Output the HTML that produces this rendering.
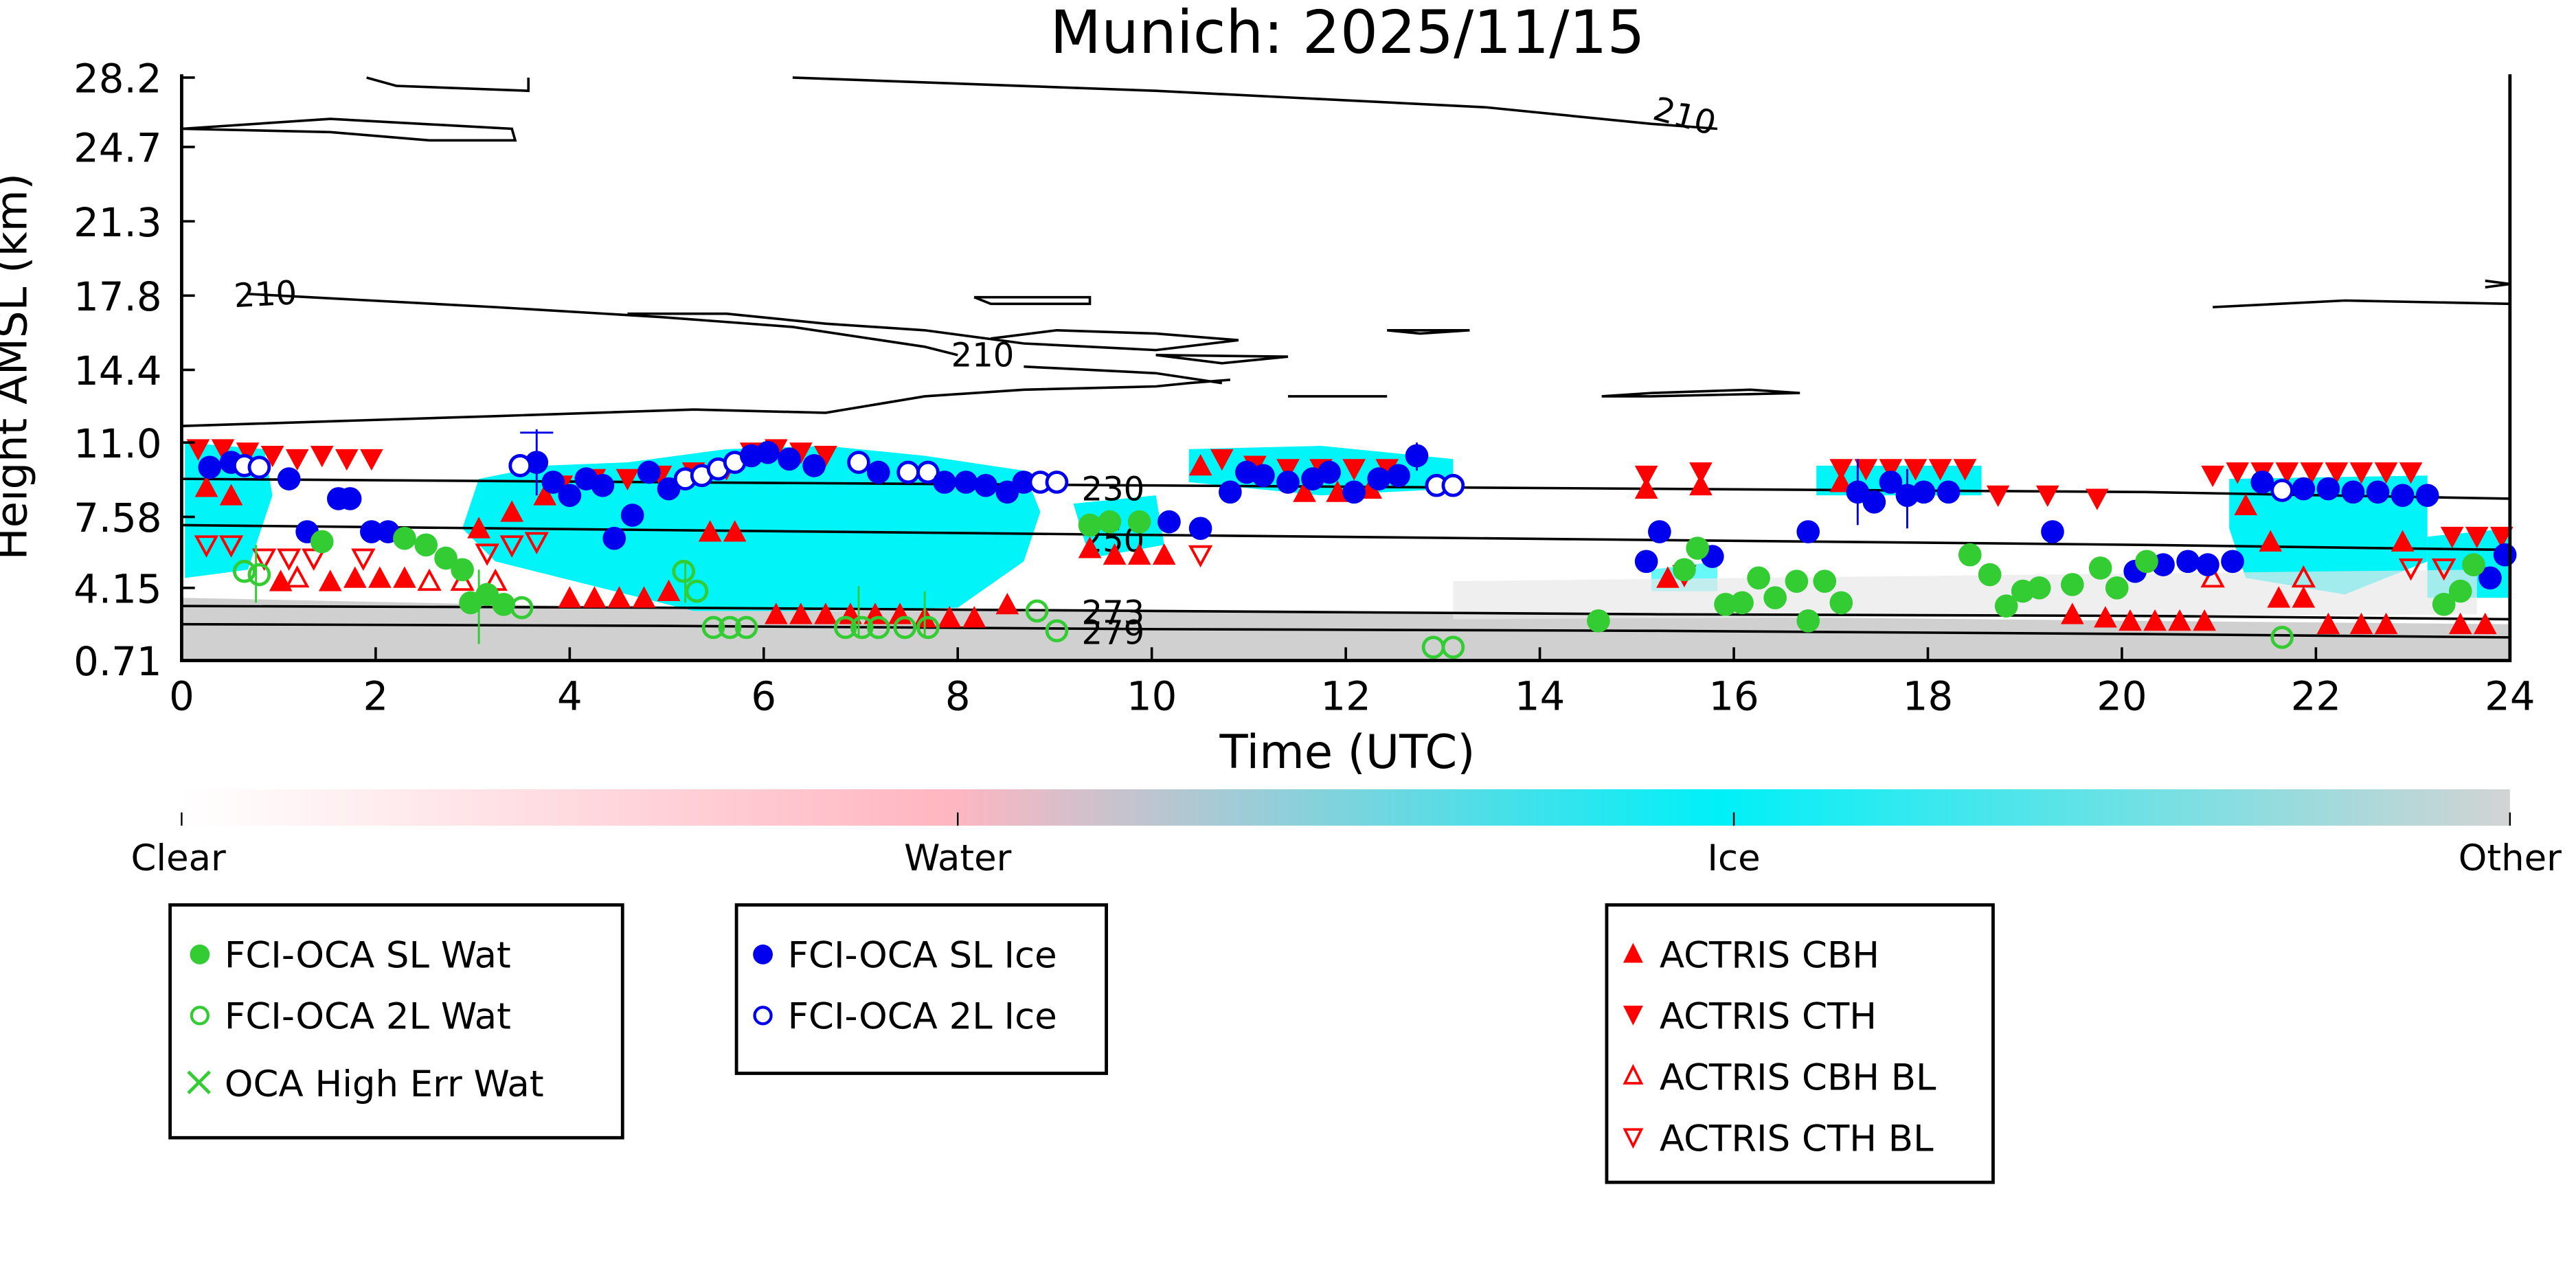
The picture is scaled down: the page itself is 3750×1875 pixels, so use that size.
<!DOCTYPE html>
<html><head><meta charset="utf-8"><style>
html,body{margin:0;padding:0;background:#fff}
svg{display:block}
text{font-family:"DejaVu Sans","Liberation Sans",sans-serif;fill:#000}
</style></head><body>
<svg width="3750" height="1875" viewBox="0 0 1560 780" xmlns="http://www.w3.org/2000/svg">
<defs>
<linearGradient id="cb" x1="0" x2="1">
<stop offset="0" stop-color="#ffffff"/>
<stop offset="0.33" stop-color="#ffb6c1"/>
<stop offset="0.66" stop-color="#00f0f8"/>
<stop offset="1" stop-color="#d3d3d3"/>
</linearGradient>
<g id="tu"><path d="M0,-7 L7,6 L-7,6Z" fill="#f00"/></g>
<g id="td"><path d="M0,7 L7,-6 L-7,-6Z" fill="#f00"/></g>
<g id="tuo"><path d="M0,-6 L6,5 L-6,5Z" fill="none" stroke="#f00" stroke-width="1.6"/></g>
<g id="tdo"><path d="M0,6 L6,-5 L-6,-5Z" fill="none" stroke="#f00" stroke-width="1.6"/></g>
<g id="b"><circle r="7" fill="#0000ee"/></g>
<g id="bo"><circle r="6" fill="#fff" stroke="#0000ee" stroke-width="2"/></g>
<g id="g"><circle r="7" fill="#33cc33"/></g>
<g id="go"><circle r="6" fill="none" stroke="#33cc33" stroke-width="2"/></g>
</defs>
<text x="816" y="32" font-size="36" text-anchor="middle">Munich: 2025/11/15</text>

<path d="M110,362 L300,366 L500,370 L700,370 L900,372 L1100,374 L1300,376 L1520,378 L1520,400 L110,400Z" fill="#d0d0d0"/>
<g fill="#00f4f8">
<path d="M112,268 L160,272 L165,300 L150,345 L112,350Z"/>
<path d="M290,290 L330,282 L380,280 L440,272 L500,270 L560,276 L620,285 L630,310 L620,340 L580,368 L480,370 L420,370 L360,355 L300,340 L280,320Z"/>
<path d="M650,305 L700,300 L705,330 L660,338Z"/>
<path d="M720,272 L800,270 L880,278 L880,296 L800,300 L720,292Z"/>
<path d="M1100,282 L1200,282 L1200,300 L1100,300Z"/>
<path d="M1350,290 L1470,288 L1470,340 L1420,360 L1360,350 L1350,320Z"/>
<path d="M1470,325 L1520,320 L1520,362 L1470,362Z"/>
<path d="M1000,345 L1040,340 L1040,358 L1000,358Z" opacity="0.6"/>
</g>
<path d="M880,352 L1500,345 L1500,372 L880,375Z" fill="#e8e8e8" opacity="0.7"/>

<g fill="none" stroke="#000" stroke-width="1.5">
<path d="M110,290 L400,292 L700,294 L1000,296 L1300,298 L1520,302"/>
<path d="M110,318 L400,321 L700,324 L1000,327 L1300,330 L1520,333"/>
<path d="M110,367 L400,368 L700,370 L1000,372 L1300,373 L1520,375"/>
<path d="M110,378 L400,379 L700,381 L1000,382 L1300,384 L1520,386"/>
<path d="M110,258 L300,252 L420,248 L500,250 L560,240 L620,236 L700,234 L720,232 L745,230"/>
<path d="M110,78 L200,72 L310,78 L312,85 L260,85 L200,80 L110,78"/>
<path d="M222,47 L240,52 L320,55 L320,47"/>
<path d="M480,47 L700,55 L900,65 L1000,75 L1040,78"/>
<path d="M150,178 L300,186 L400,192 L480,198 L560,210 L580,215"/>
<path d="M380,190 L440,190 L500,196 L560,200 L620,208 L700,212 L750,206 L700,202 L640,200 L600,205"/>
<path d="M590,180 L660,180 L660,184 L600,184Z"/>
<path d="M700,215 L780,216 L740,220 Z"/>
<path d="M620,222 L700,226 L740,232"/>
<path d="M780,240 L840,240"/>
<path d="M840,200 L890,200 L860,202Z"/>
<path d="M970,240 L1000,238 L1060,236 L1090,238 L1000,240Z"/>
<path d="M1340,186 L1420,182 L1520,184"/>
<path d="M1505,170 L1520,172 L1505,174"/>
</g>
<g font-size="20">
<text x="142" y="186" transform="rotate(-3 142 186)">210</text>
<text x="576" y="222">210</text>
<text x="1000" y="72" transform="rotate(15 1000 72)">210</text>
<text x="655" y="303">230</text>
<text x="655" y="334">250</text>
<text x="655" y="378">273</text>
<text x="655" y="390">279</text>
</g>

<g>
<use href="#td" x="120" y="272"/><use href="#td" x="135" y="272"/><use href="#td" x="150" y="274"/><use href="#td" x="165" y="276"/><use href="#td" x="180" y="278"/><use href="#td" x="195" y="276"/><use href="#td" x="210" y="278"/><use href="#td" x="225" y="278"/>
<use href="#tu" x="125" y="295"/><use href="#tu" x="140" y="300"/><use href="#tu" x="200" y="352"/><use href="#tu" x="215" y="350"/><use href="#tu" x="230" y="350"/><use href="#tu" x="245" y="350"/><use href="#tu" x="170" y="352"/>
<use href="#tdo" x="125" y="330"/><use href="#tdo" x="140" y="330"/><use href="#tdo" x="160" y="338"/><use href="#tdo" x="175" y="338"/><use href="#tdo" x="190" y="338"/><use href="#tdo" x="220" y="338"/><use href="#tdo" x="295" y="335"/><use href="#tdo" x="310" y="330"/><use href="#tdo" x="325" y="328"/>
<use href="#tuo" x="180" y="350"/><use href="#tuo" x="260" y="352"/><use href="#tuo" x="280" y="352"/><use href="#tuo" x="300" y="352"/>
<use href="#tu" x="290" y="320"/><use href="#tu" x="310" y="310"/><use href="#tu" x="330" y="300"/><use href="#tu" x="345" y="362"/><use href="#tu" x="360" y="362"/><use href="#tu" x="375" y="362"/><use href="#tu" x="390" y="362"/><use href="#tu" x="405" y="358"/><use href="#tu" x="430" y="322"/><use href="#tu" x="445" y="322"/>
<use href="#tu" x="470" y="372"/><use href="#tu" x="485" y="372"/><use href="#tu" x="500" y="372"/><use href="#tu" x="515" y="372"/><use href="#tu" x="530" y="372"/><use href="#tu" x="545" y="372"/><use href="#tu" x="560" y="374"/><use href="#tu" x="575" y="374"/><use href="#tu" x="590" y="374"/><use href="#tu" x="610" y="366"/>
<use href="#td" x="340" y="294"/><use href="#td" x="360" y="290"/><use href="#td" x="380" y="290"/><use href="#td" x="400" y="288"/><use href="#td" x="420" y="286"/><use href="#td" x="440" y="284"/><use href="#td" x="455" y="274"/><use href="#td" x="470" y="272"/><use href="#td" x="485" y="274"/><use href="#td" x="500" y="276"/>
<use href="#tu" x="660" y="332"/><use href="#tu" x="675" y="336"/><use href="#tu" x="690" y="336"/><use href="#tu" x="705" y="336"/><use href="#tdo" x="727" y="336"/>
<use href="#tu" x="727" y="282"/><use href="#td" x="740" y="278"/><use href="#td" x="760" y="282"/><use href="#td" x="780" y="284"/><use href="#td" x="800" y="284"/><use href="#td" x="820" y="284"/><use href="#td" x="840" y="284"/><use href="#tu" x="790" y="298"/><use href="#tu" x="810" y="298"/><use href="#tu" x="830" y="296"/>
<use href="#td" x="997" y="288"/><use href="#tu" x="997" y="296"/><use href="#td" x="1030" y="286"/><use href="#tu" x="1030" y="294"/><use href="#tu" x="1010" y="350"/><use href="#tdo" x="1020" y="348"/>
<use href="#td" x="1115" y="284"/><use href="#td" x="1130" y="284"/><use href="#td" x="1145" y="284"/><use href="#td" x="1160" y="284"/><use href="#td" x="1175" y="284"/><use href="#td" x="1190" y="284"/><use href="#tu" x="1115" y="292"/><use href="#td" x="1210" y="300"/><use href="#td" x="1240" y="300"/><use href="#td" x="1270" y="302"/>
<use href="#tu" x="1255" y="372"/><use href="#tu" x="1275" y="374"/><use href="#tu" x="1290" y="376"/><use href="#tu" x="1305" y="376"/><use href="#tu" x="1320" y="376"/><use href="#tu" x="1335" y="376"/><use href="#tu" x="1380" y="362"/><use href="#tu" x="1395" y="362"/><use href="#tu" x="1410" y="378"/><use href="#tu" x="1430" y="378"/><use href="#tu" x="1445" y="378"/><use href="#tu" x="1490" y="378"/><use href="#tu" x="1505" y="378"/>
<use href="#td" x="1340" y="288"/><use href="#td" x="1355" y="286"/><use href="#td" x="1370" y="286"/><use href="#td" x="1385" y="286"/><use href="#td" x="1400" y="286"/><use href="#td" x="1415" y="286"/><use href="#td" x="1430" y="286"/><use href="#td" x="1445" y="286"/><use href="#td" x="1460" y="286"/><use href="#tu" x="1360" y="306"/>
<use href="#tu" x="1375" y="328"/><use href="#tu" x="1455" y="328"/><use href="#tdo" x="1460" y="344"/><use href="#tdo" x="1480" y="344"/><use href="#td" x="1485" y="325"/><use href="#td" x="1500" y="325"/><use href="#td" x="1515" y="325"/><use href="#tuo" x="1340" y="350"/><use href="#tuo" x="1395" y="350"/>
</g>
<g stroke="#0000ee" stroke-width="1.2">
<line x1="325" y1="260" x2="325" y2="300"/><line x1="315" y1="262" x2="335" y2="262"/>
<line x1="1125" y1="278" x2="1125" y2="318"/><line x1="1155" y1="284" x2="1155" y2="320"/><line x1="858" y1="268" x2="858" y2="285"/>
</g>
<g>
<use href="#b" x="127" y="283"/><use href="#b" x="140" y="280"/><use href="#bo" x="148" y="282"/><use href="#bo" x="157" y="283"/><use href="#b" x="175" y="290"/><use href="#b" x="205" y="302"/><use href="#b" x="212" y="302"/><use href="#b" x="186" y="322"/><use href="#b" x="225" y="322"/><use href="#b" x="235" y="322"/>
<use href="#b" x="315" y="282"/><use href="#b" x="325" y="280"/><use href="#b" x="335" y="292"/><use href="#b" x="345" y="300"/><use href="#b" x="355" y="290"/><use href="#b" x="365" y="294"/><use href="#b" x="372" y="326"/><use href="#b" x="383" y="312"/><use href="#b" x="393" y="286"/><use href="#b" x="405" y="296"/>
<use href="#bo" x="315" y="282"/><use href="#bo" x="415" y="290"/><use href="#bo" x="425" y="288"/><use href="#bo" x="435" y="284"/><use href="#bo" x="445" y="280"/><use href="#b" x="455" y="276"/><use href="#b" x="465" y="274"/><use href="#b" x="478" y="278"/><use href="#b" x="493" y="282"/><use href="#bo" x="520" y="280"/><use href="#b" x="532" y="286"/><use href="#bo" x="550" y="286"/><use href="#bo" x="562" y="286"/><use href="#b" x="572" y="292"/><use href="#b" x="585" y="292"/><use href="#b" x="597" y="294"/><use href="#b" x="610" y="298"/><use href="#b" x="620" y="292"/><use href="#bo" x="630" y="292"/><use href="#bo" x="640" y="292"/>
<use href="#b" x="708" y="316"/><use href="#b" x="727" y="320"/><use href="#b" x="745" y="298"/><use href="#b" x="755" y="286"/><use href="#b" x="765" y="288"/><use href="#b" x="780" y="292"/><use href="#b" x="795" y="290"/><use href="#b" x="805" y="286"/><use href="#b" x="820" y="298"/><use href="#b" x="835" y="290"/><use href="#b" x="847" y="288"/><use href="#b" x="858" y="276"/><use href="#bo" x="870" y="294"/><use href="#bo" x="880" y="294"/>
<use href="#b" x="997" y="340"/><use href="#b" x="1005" y="322"/><use href="#b" x="1037" y="337"/><use href="#b" x="1095" y="322"/><use href="#b" x="1125" y="298"/><use href="#b" x="1135" y="304"/><use href="#b" x="1145" y="292"/><use href="#b" x="1155" y="300"/><use href="#b" x="1165" y="298"/><use href="#b" x="1180" y="298"/><use href="#b" x="1243" y="322"/>
<use href="#b" x="1293" y="346"/><use href="#b" x="1310" y="342"/><use href="#b" x="1325" y="340"/><use href="#b" x="1337" y="342"/><use href="#b" x="1352" y="340"/><use href="#b" x="1370" y="292"/><use href="#bo" x="1382" y="297"/><use href="#b" x="1395" y="296"/><use href="#b" x="1410" y="296"/><use href="#b" x="1425" y="298"/><use href="#b" x="1440" y="298"/><use href="#b" x="1455" y="300"/><use href="#b" x="1470" y="300"/><use href="#b" x="1508" y="350"/><use href="#b" x="1517" y="336"/>
</g>
<g stroke="#33cc33" stroke-width="1.2" fill="none">
<line x1="155" y1="330" x2="155" y2="365"/><line x1="290" y1="345" x2="290" y2="390"/><line x1="520" y1="355" x2="520" y2="385"/><line x1="560" y1="358" x2="560" y2="385"/><line x1="415" y1="340" x2="415" y2="365"/>
</g>
<g>
<use href="#go" x="148" y="346"/><use href="#go" x="157" y="348"/><use href="#g" x="195" y="328"/><use href="#g" x="245" y="326"/><use href="#g" x="258" y="330"/><use href="#g" x="270" y="338"/><use href="#g" x="280" y="345"/><use href="#g" x="285" y="365"/><use href="#g" x="295" y="360"/><use href="#g" x="305" y="366"/><use href="#go" x="316" y="368"/>
<use href="#go" x="414" y="346"/><use href="#go" x="422" y="358"/><use href="#go" x="432" y="380"/><use href="#go" x="442" y="380"/><use href="#go" x="452" y="380"/><use href="#go" x="512" y="380"/><use href="#go" x="522" y="380"/><use href="#go" x="532" y="380"/><use href="#go" x="548" y="380"/><use href="#go" x="562" y="380"/><use href="#go" x="628" y="370"/><use href="#go" x="640" y="382"/>
<use href="#g" x="660" y="318"/><use href="#g" x="672" y="316"/><use href="#g" x="690" y="316"/><use href="#go" x="868" y="392"/><use href="#go" x="880" y="392"/>
<use href="#g" x="968" y="376"/><use href="#g" x="1020" y="345"/><use href="#g" x="1028" y="332"/><use href="#g" x="1045" y="366"/><use href="#g" x="1055" y="365"/><use href="#g" x="1065" y="350"/><use href="#g" x="1075" y="362"/><use href="#g" x="1088" y="352"/><use href="#g" x="1095" y="376"/><use href="#g" x="1105" y="352"/><use href="#g" x="1115" y="365"/><use href="#g" x="1193" y="336"/><use href="#g" x="1205" y="348"/><use href="#g" x="1215" y="367"/><use href="#g" x="1225" y="358"/><use href="#g" x="1235" y="356"/><use href="#g" x="1255" y="354"/><use href="#g" x="1272" y="344"/><use href="#g" x="1282" y="356"/><use href="#g" x="1300" y="340"/><use href="#go" x="1382" y="386"/><use href="#g" x="1480" y="366"/><use href="#g" x="1490" y="358"/><use href="#g" x="1498" y="342"/>
</g>

<g stroke="#000" stroke-width="2" fill="none">
<path d="M110,45 L110,400 L1520,400 L1520,45"/>
</g>
<g stroke="#000" stroke-width="1.5">
<line x1="110" y1="47" x2="118" y2="47"/><line x1="110" y1="89" x2="118" y2="89"/><line x1="110" y1="134" x2="118" y2="134"/><line x1="110" y1="179" x2="118" y2="179"/><line x1="110" y1="224" x2="118" y2="224"/><line x1="110" y1="268" x2="118" y2="268"/><line x1="110" y1="313" x2="118" y2="313"/><line x1="110" y1="356" x2="118" y2="356"/>
<line x1="227.5" y1="400" x2="227.5" y2="392"/><line x1="345" y1="400" x2="345" y2="392"/><line x1="462.5" y1="400" x2="462.5" y2="392"/><line x1="580" y1="400" x2="580" y2="392"/><line x1="697.5" y1="400" x2="697.5" y2="392"/><line x1="815" y1="400" x2="815" y2="392"/><line x1="932.5" y1="400" x2="932.5" y2="392"/><line x1="1050" y1="400" x2="1050" y2="392"/><line x1="1167.5" y1="400" x2="1167.5" y2="392"/><line x1="1285" y1="400" x2="1285" y2="392"/><line x1="1402.5" y1="400" x2="1402.5" y2="392"/>
</g>
<g font-size="24" text-anchor="end">
<text x="98" y="56">28.2</text><text x="98" y="98">24.7</text><text x="98" y="143">21.3</text><text x="98" y="188">17.8</text><text x="98" y="233">14.4</text><text x="98" y="277">11.0</text><text x="98" y="322">7.58</text><text x="98" y="365">4.15</text><text x="98" y="409">0.71</text>
</g>
<g font-size="24" text-anchor="middle">
<text x="110" y="430">0</text><text x="227.5" y="430">2</text><text x="345" y="430">4</text><text x="462.5" y="430">6</text><text x="580" y="430">8</text><text x="697.5" y="430">10</text><text x="815" y="430">12</text><text x="932.5" y="430">14</text><text x="1050" y="430">16</text><text x="1167.5" y="430">18</text><text x="1285" y="430">20</text><text x="1402.5" y="430">22</text><text x="1520" y="430">24</text>
</g>
<text x="816" y="465" font-size="28" text-anchor="middle">Time (UTC)</text>
<text x="0" y="0" font-size="26" text-anchor="middle" transform="translate(16 222) rotate(-90)">Height AMSL (km)</text>

<rect x="110" y="478" width="1410" height="22" fill="url(#cb)"/>
<g stroke="#000" stroke-width="1">
<line x1="110" y1="500" x2="110" y2="492"/><line x1="580" y1="500" x2="580" y2="492"/><line x1="1050" y1="500" x2="1050" y2="492"/><line x1="1520" y1="500" x2="1520" y2="492"/>
</g>
<g font-size="22" text-anchor="middle">
<text x="108" y="527">Clear</text><text x="580" y="527">Water</text><text x="1050" y="527">Ice</text><text x="1520" y="527">Other</text>
</g>

<g fill="none" stroke="#000" stroke-width="2">
<rect x="103" y="548" width="274" height="141"/>
<rect x="446" y="548" width="224" height="102"/>
<rect x="973" y="548" width="234" height="168"/>
</g>
<g font-size="22">
<circle cx="121" cy="578" r="6" fill="#33cc33"/><text x="136" y="586">FCI-OCA SL Wat</text>
<circle cx="121" cy="615" r="5" fill="none" stroke="#33cc33" stroke-width="1.8"/><text x="136" y="623">FCI-OCA 2L Wat</text>
<path d="M114,649 L127,662 M127,649 L114,662" stroke="#33cc33" stroke-width="2"/><text x="136" y="664">OCA High Err Wat</text>
<circle cx="462" cy="578" r="6" fill="#0000ee"/><text x="477" y="586">FCI-OCA SL Ice</text>
<circle cx="462" cy="615" r="5" fill="#fff" stroke="#0000ee" stroke-width="1.8"/><text x="477" y="623">FCI-OCA 2L Ice</text>
<path d="M989,571 L995,583 L983,583Z" fill="#f00"/><text x="1005" y="586">ACTRIS CBH</text>
<path d="M989,621 L995,609 L983,609Z" fill="#f00"/><text x="1005" y="623">ACTRIS CTH</text>
<path d="M989,646 L994,656 L984,656Z" fill="none" stroke="#f00" stroke-width="1.5"/><text x="1005" y="660">ACTRIS CBH BL</text>
<path d="M989,694 L994,684 L984,684Z" fill="none" stroke="#f00" stroke-width="1.5"/><text x="1005" y="697">ACTRIS CTH BL</text>
</g>
</svg>
</body></html>
